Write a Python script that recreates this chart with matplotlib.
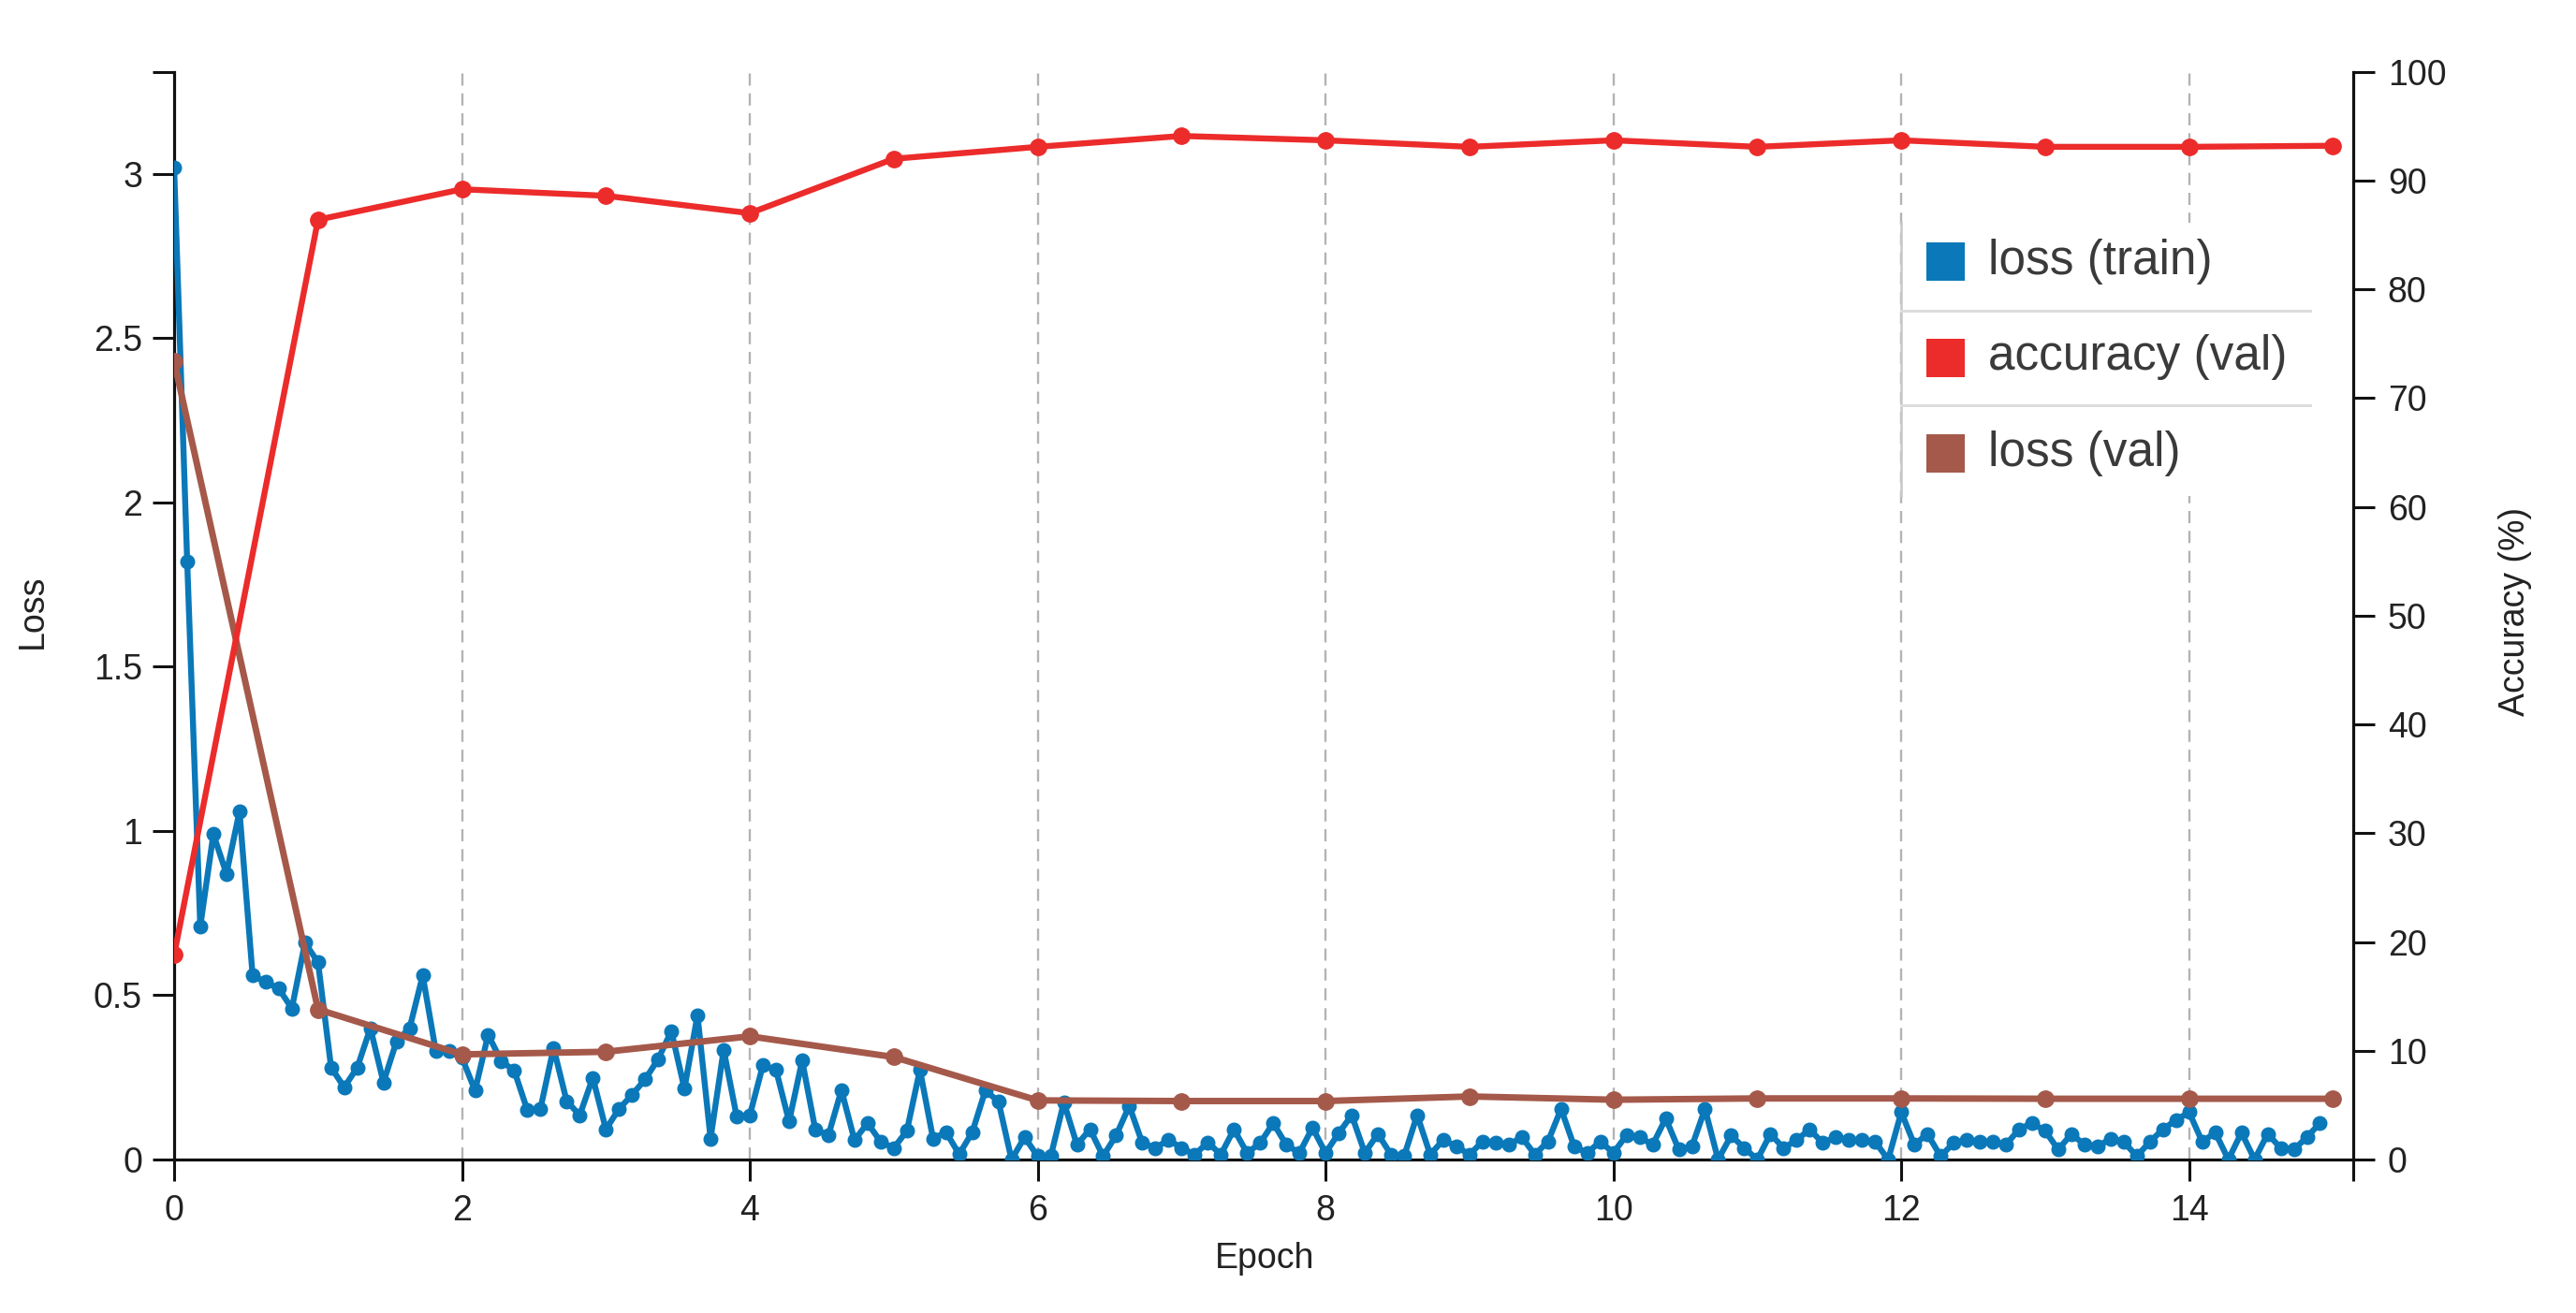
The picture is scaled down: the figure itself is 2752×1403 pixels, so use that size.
import numpy as np
import matplotlib
matplotlib.use("Agg")
import matplotlib.pyplot as plt
from matplotlib.patches import Rectangle
from matplotlib.lines import Line2D

plt.rcParams['font.family'] = ['Liberation Sans', 'DejaVu Sans']

# ---------------- data ----------------
ITERS_PER_EPOCH = 11
train_loss = [
    3.02, 1.82, 0.71, 0.99, 0.87, 1.06, 0.56, 0.54, 0.52, 0.46, 0.66,
    0.60, 0.28, 0.22, 0.28, 0.40, 0.235, 0.36, 0.40, 0.56, 0.33, 0.33,
    0.31, 0.21, 0.38, 0.30, 0.27, 0.15, 0.155, 0.34, 0.178, 0.135, 0.249,
    0.092, 0.154, 0.197, 0.244, 0.306, 0.391, 0.216, 0.439, 0.064, 0.334, 0.130,
    0.135, 0.287, 0.273, 0.116, 0.301, 0.092, 0.073, 0.211, 0.059, 0.111, 0.054,
    0.035, 0.087, 0.273, 0.064, 0.083, 0.016, 0.083, 0.21, 0.177, 0.0, 0.068,
    0.01, 0.01, 0.174, 0.045, 0.092, 0.01, 0.074, 0.163, 0.05, 0.035, 0.06,
    0.035, 0.015, 0.052, 0.015, 0.092, 0.02, 0.05, 0.111, 0.045, 0.02, 0.097,
    0.02, 0.08, 0.135, 0.02, 0.078, 0.015, 0.01, 0.135, 0.015, 0.06, 0.04,
    0.015, 0.055, 0.05, 0.045, 0.068, 0.015, 0.055, 0.154, 0.04, 0.02, 0.055,
    0.02, 0.074, 0.068, 0.045, 0.125, 0.03, 0.04, 0.154, 0.0, 0.073, 0.035,
    0.0, 0.078, 0.035, 0.059, 0.092, 0.05, 0.068, 0.059, 0.059, 0.054, 0.0,
    0.144, 0.045, 0.078, 0.01, 0.05, 0.059, 0.054, 0.054, 0.045, 0.092, 0.111,
    0.087, 0.03, 0.078, 0.045, 0.04, 0.063, 0.054, 0.01, 0.054, 0.092, 0.12,
    0.144, 0.054, 0.082, 0.0, 0.082, 0.0, 0.078, 0.035, 0.03, 0.068, 0.111,
]
val_epochs = list(range(16))
val_accuracy = [18.8, 86.4, 89.2, 88.6, 87.0, 92.0, 93.1, 94.1, 93.7, 93.1,
                93.7, 93.1, 93.7, 93.1, 93.1, 93.2]
val_loss = [2.43, 0.457, 0.32, 0.328, 0.375, 0.312, 0.18, 0.178, 0.178, 0.192,
            0.182, 0.186, 0.186, 0.185, 0.185, 0.185]
x_ticks = [0, 2, 4, 6, 8, 10, 12, 14]
loss_ticks = [0, 0.5, 1, 1.5, 2, 2.5, 3]
loss_tick_labels = ["0", "0.5", "1", "1.5", "2", "2.5", "3"]
acc_ticks = [0, 10, 20, 30, 40, 50, 60, 70, 80, 90, 100]
legend_labels = ["loss (train)", "accuracy (val)", "loss (val)"]

# ---------------- style ----------------
C_TRAIN = '#0a78b9'
C_ACC = '#ec2b2b'
C_VLOSS = '#a5594a'
W, H = 2752, 1403
DPI = 100
fig = plt.figure(figsize=(W / DPI, H / DPI), dpi=DPI)
fig.patch.set_facecolor('white')

x0, x1 = 186, 2514
y0, y1 = 76.7, 1239
ax = fig.add_axes([x0 / W, 1 - y1 / H, (x1 - x0) / W, (y1 - y0) / H])
ax2 = ax.twinx()

XMAX = 15.14
LMAX = 3.311
ax.set_xlim(0, XMAX)
ax.set_ylim(0, LMAX)
ax2.set_ylim(0, 100)

# gridlines
for xv in x_ticks[1:]:
    ax.axvline(xv, color='#b3b3b3', lw=1.7, dashes=(5.5, 3.5), zorder=0)

train_x = np.arange(len(train_loss)) / ITERS_PER_EPOCH
ax.plot(train_x, train_loss, color=C_TRAIN, lw=4.6, marker='o', ms=10.5,
        zorder=3, solid_joinstyle='round')
ax.plot(val_epochs, val_loss, color=C_VLOSS, lw=5.0, marker='o', ms=12.5,
        zorder=4)
ax2.plot(val_epochs, val_accuracy, color=C_ACC, lw=4.6, marker='o', ms=12.5,
         zorder=4)

# spines
for a in (ax, ax2):
    a.spines['top'].set_visible(False)
    for s in a.spines.values():
        s.set_linewidth(2.3)
        s.set_color('#111111')
    a.set_facecolor('none')
ax2.spines['left'].set_visible(False)
ax2.spines['bottom'].set_visible(False)
ax.spines['right'].set_visible(False)

tick_kw = dict(direction='out', length=16.5, width=2.2, color='#111111',
               labelsize=27, labelcolor='#222222')
ax.set_xticks(x_ticks)
ax.set_xticklabels([str(v) for v in x_ticks])
ax.set_yticks(loss_ticks)
ax.set_yticklabels(loss_tick_labels)
ax.tick_params(axis='x', pad=10, **tick_kw)
ax.tick_params(axis='y', pad=8, **tick_kw)
ax2.set_yticks(acc_ticks)
ax2.set_yticklabels([str(v) for v in acc_ticks])
ax2.tick_params(axis='y', pad=10, **tick_kw)
# outer ticks at axis ends
ax.set_xticks([XMAX], minor=True)
ax.set_yticks([LMAX], minor=True)
ax.tick_params(which='minor', direction='out', length=16.5, width=2.2,
               color='#111111', labelleft=False, labelbottom=False)

# axis labels
fig.text(35 / W, 0.5346, "Loss", rotation=90, ha='center', va='center',
         fontsize=27, color='#222222')
fig.text(1351 / W, 1 - 1345 / H, "Epoch", ha='center', va='center',
         fontsize=27, color='#222222')
fig.text(2687 / W, 0.5346, "Accuracy (%)", rotation=90, ha='center',
         va='center', fontsize=27, color='#222222')

# legend (custom, boxed with separators)
lx0, lx1 = 2031, 2470
ly0, ly1 = 238, 530
fig.add_artist(Rectangle((lx0 / W, 1 - ly1 / H), (lx1 - lx0) / W,
                         (ly1 - ly0) / H, transform=fig.transFigure,
                         facecolor='white', edgecolor='none', zorder=10))
fig.add_artist(Line2D([lx0 / W, lx0 / W], [1 - ly0 / H, 1 - ly1 / H],
                      transform=fig.transFigure, color='#c8c8c8', lw=1.8,
                      zorder=11))
for sy in (332, 433):
    fig.add_artist(Line2D([lx0 / W, 2468 / W], [1 - sy / H, 1 - sy / H],
                          transform=fig.transFigure, color='#dcdcdc', lw=2.2,
                          zorder=11))
row_y = [279, 382, 485]
for label, col, ry in zip(legend_labels, [C_TRAIN, C_ACC, C_VLOSS], row_y):
    fig.add_artist(Rectangle((2058 / W, 1 - (ry + 20.5) / H), 41 / W, 41 / H,
                             transform=fig.transFigure, facecolor=col,
                             edgecolor='none', zorder=12))
    fig.text(2124 / W, 1 - ry / H, label, ha='left', va='center',
             fontsize=37, color='#3a3a3a', zorder=12)

fig.savefig("out.png", dpi=DPI, facecolor='white')
